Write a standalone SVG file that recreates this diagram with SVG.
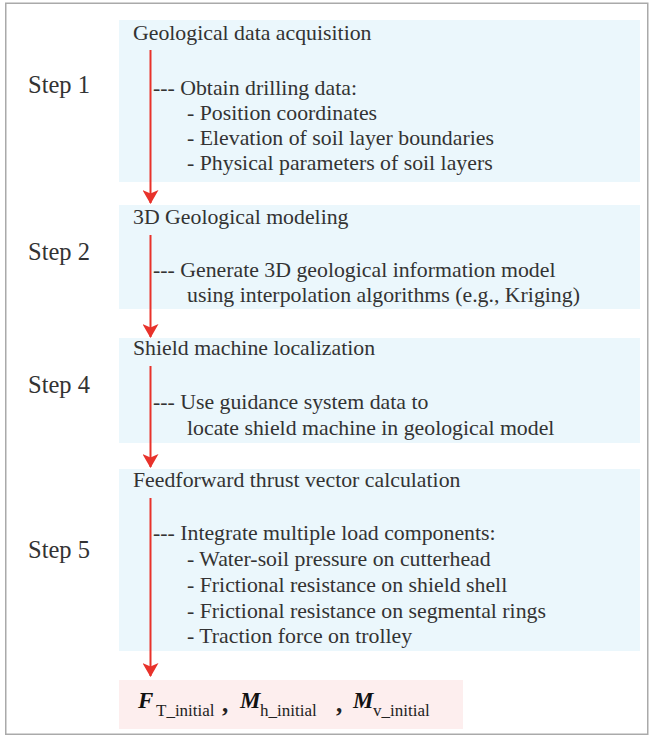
<svg xmlns="http://www.w3.org/2000/svg" width="651" height="737" viewBox="0 0 651 737">
  <defs>
    <!-- notched arrowhead, drawn along +x so orient="auto" points it down the line -->
    <marker id="arrowhead" markerWidth="14" markerHeight="16" refX="13" refY="8" orient="auto" markerUnits="userSpaceOnUse" viewBox="0 0 14 16">
      <path d="M0,0 L14,8 L0,16 L3.5,8 Z" fill="#e8322b"/>
    </marker>
  </defs>
  <style>
    .frame { fill: #ffffff; stroke: #aaaaaa; stroke-width: 1.5; }
    .panel { fill: #ebf7fc; }
    .result { fill: #fdeeee; }
    .txt { font-family: "Liberation Serif", "Times New Roman", serif; font-size: 21.8px; fill: #333333; }
    .step { font-family: "Liberation Serif", "Times New Roman", serif; font-size: 24.5px; fill: #333333; }
    .flow { stroke: #e8322b; stroke-width: 2; fill: none; marker-end: url(#arrowhead); }
    .sym { font-family: "Liberation Serif", "Times New Roman", serif; font-size: 23px; font-weight: bold; font-style: italic; fill: #111111; }
    .sub { font-family: "Liberation Serif", "Times New Roman", serif; font-size: 17px; fill: #222222; }
    .comma { font-family: "Liberation Serif", "Times New Roman", serif; font-size: 25px; font-weight: bold; fill: #222222; }
  </style>

  <rect class="frame" x="5.75" y="3.25" width="642" height="731"/>

  <g id="step1">
    <rect class="panel" x="119" y="20" width="521" height="162"/>
    <text class="step" x="28" y="93">Step 1</text>
    <text class="txt" x="133" y="40">Geological data acquisition</text>
    <text class="txt" x="153" y="95">--- Obtain drilling data:</text>
    <text class="txt" x="187" y="120">- Position coordinates</text>
    <text class="txt" x="187" y="145">- Elevation of soil layer boundaries</text>
    <text class="txt" x="187" y="170">- Physical parameters of soil layers</text>
  </g>

  <g id="step2">
    <rect class="panel" x="119" y="205" width="521" height="104"/>
    <text class="step" x="28" y="260">Step 2</text>
    <text class="txt" x="133" y="224">3D Geological modeling</text>
    <text class="txt" x="153" y="277">--- Generate 3D geological information model</text>
    <text class="txt" x="187" y="302">using interpolation algorithms (e.g., Kriging)</text>
  </g>

  <g id="step4">
    <rect class="panel" x="119" y="338" width="521" height="105"/>
    <text class="step" x="28" y="393">Step 4</text>
    <text class="txt" x="133" y="355">Shield machine localization</text>
    <text class="txt" x="153" y="409">--- Use guidance system data to</text>
    <text class="txt" x="187" y="435">locate shield machine in geological model</text>
  </g>

  <g id="step5">
    <rect class="panel" x="119" y="469" width="521" height="182"/>
    <text class="step" x="28" y="558">Step 5</text>
    <text class="txt" x="133" y="487">Feedforward thrust vector calculation</text>
    <text class="txt" x="153" y="540">--- Integrate multiple load components:</text>
    <text class="txt" x="187" y="566">- Water-soil pressure on cutterhead</text>
    <text class="txt" x="187" y="592">- Frictional resistance on shield shell</text>
    <text class="txt" x="187" y="618">- Frictional resistance on segmental rings</text>
    <text class="txt" x="187" y="643">- Traction force on trolley</text>
  </g>

  <g id="result">
    <rect class="result" x="119" y="680" width="344" height="49"/>
    <text class="sym" x="138" y="708">F</text>
    <text class="sub" x="156" y="716">T_initial</text>
    <text class="comma" x="222" y="712">,</text>
    <text class="sym" x="240" y="708">M</text>
    <text class="sub" x="260" y="716">h_initial</text>
    <text class="comma" x="336" y="712">,</text>
    <text class="sym" x="353" y="708">M</text>
    <text class="sub" x="373" y="716">v_initial</text>
  </g>

  <g id="connectors">
    <line class="flow" x1="150.5" y1="50" x2="150.5" y2="203"/>
    <line class="flow" x1="150.5" y1="235" x2="150.5" y2="337"/>
    <line class="flow" x1="150.5" y1="366" x2="150.5" y2="467"/>
    <line class="flow" x1="150.5" y1="498" x2="150.5" y2="676"/>
  </g>
</svg>
